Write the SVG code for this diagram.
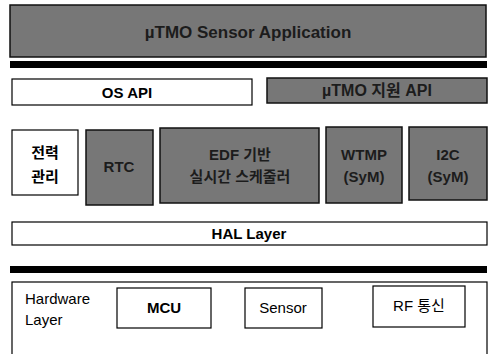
<svg xmlns="http://www.w3.org/2000/svg" width="493" height="354" viewBox="0 0 493 354">
<style>
.w{fill:#fff;stroke:#000;stroke-width:1.2}
.g{fill:#777;stroke:#111;stroke-width:1.5}
.bar{fill:#000}
text{font-family:"Liberation Sans","Noto Sans CJK KR",sans-serif;font-size:15px;text-anchor:middle;fill:#000}
.gt{fill:#1c1c1c;font-weight:bold}
.k{font-weight:bold}
</style>
<rect width="493" height="354" fill="#fff"/>
<g id="app"><rect class="g" x="10" y="5" width="476" height="52"/><text class="gt" x="248" y="38" style="font-size:17px">µTMO Sensor Application</text></g>
<g id="bars"><rect class="bar" x="10" y="61" width="477" height="7"/><rect class="bar" x="10" y="266" width="477" height="7"/></g>
<g id="osapi"><rect class="w" x="12" y="79" width="240" height="26"/><text class="k" x="127" y="98">OS API</text></g>
<g id="tmoapi"><rect class="g" x="267" y="78" width="220" height="25"/><text class="gt" x="377" y="96" style="font-size:16px">µTMO 지원 API</text></g>
<g id="power"><rect class="w" x="12" y="130" width="66" height="65"/><text class="k" x="45" y="158">전력</text><text class="k" x="45" y="182">관리</text></g>
<g id="rtc"><rect class="g" x="86" y="130" width="67" height="75"/><text class="gt" x="119" y="172">RTC</text></g>
<g id="edf"><rect class="g" x="160" y="128" width="159" height="75"/><text class="gt" x="240" y="160">EDF 기반</text><text class="gt" x="240" y="182">실시간 스케줄러</text></g>
<g id="wtmp"><rect class="g" x="326" y="127" width="76" height="76"/><text class="gt" x="364" y="160">WTMP</text><text class="gt" x="364" y="182">(SyM)</text></g>
<g id="i2c"><rect class="g" x="409" y="127" width="78" height="73"/><text class="gt" x="448" y="160">I2C</text><text class="gt" x="448" y="182">(SyM)</text></g>
<g id="hal"><rect class="w" x="12" y="222" width="475" height="23"/><text class="k" x="249" y="239">HAL Layer</text></g>
<g id="hw"><rect class="w" x="12" y="282" width="475" height="80"/><text x="25" y="304" style="text-anchor:start">Hardware</text><text x="25" y="325" style="text-anchor:start">Layer</text></g>
<g id="mcu"><rect class="w" x="117" y="288" width="94" height="40"/><text class="k" x="164" y="313">MCU</text></g>
<g id="sensor"><rect class="w" x="245" y="288" width="77" height="40"/><text x="283" y="313">Sensor</text></g>
<g id="rf"><rect class="w" x="373" y="286" width="92" height="41"/><text x="419" y="311">RF 통신</text></g>
<g id="connectors"></g>
</svg>
